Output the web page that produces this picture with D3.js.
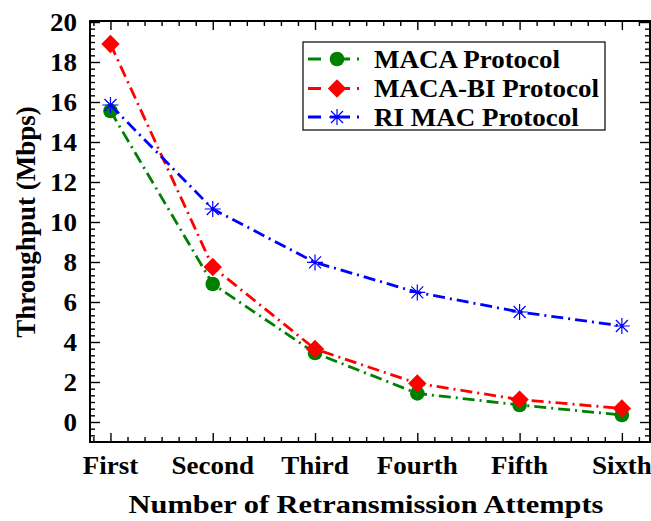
<!DOCTYPE html>
<html>
<head>
<meta charset="utf-8">
<script src="https://cdn.jsdelivr.net/npm/d3@7"></script>
<style>
  html, body { margin: 0; padding: 0; background: #fff; }
  svg { display: block; }
  text { font-family: "Liberation Serif", "Times New Roman", serif; font-weight: bold; fill: #000; }
</style>
</head>
<body>
<svg id="chart" width="651" height="521"></svg>
<script>
// Retransmission attempts (x categories) and throughput per protocol, in Mbps
const attempts = ["First", "Second", "Third", "Fourth", "Fifth", "Sixth"];
const macaValues = [15.55, 6.9, 3.45, 1.43, 0.85, 0.35];
const macaBiValues = [18.9, 7.75, 3.65, 1.93, 1.12, 0.68];
const riMacValues = [15.85, 10.65, 7.98, 6.48, 5.5, 4.8];
const yTickValues = [0, 2, 4, 6, 8, 10, 12, 14, 16, 18, 20];
const seriesNames = ["MACA Protocol", "MACA-BI Protocol", "RI MAC Protocol"];

const plot = { left: 90, right: 650, top: 21, bottom: 442 };

const svg = d3.select("#chart");

const x = d3.scaleLinear().domain([0.8, 6.275]).range([plot.left, plot.right]);
const y = d3.scaleLinear().domain([-1, 20.05]).range([plot.bottom, plot.top]);

const series = [
  { name: seriesNames[0], values: macaValues, color: "#008000", marker: "circle" },
  { name: seriesNames[1], values: macaBiValues, color: "#ff0000", marker: "diamond" },
  { name: seriesNames[2], values: riMacValues, color: "#0000ff", marker: "asterisk" }
];

const dash = "12,5,2,5";

// ---- frame with inward ticks on all four sides ----
const majorX = d3.range(1, 7);
const minorX = d3.range(-1, 35).map(k => 1 + k / 6).filter(v => v > 0.8 && v < 6.27 && Math.abs(v - Math.round(v)) > 1e-6);
const minorY = d3.range(-2, 64).map(k => k / 3).filter(v => v > -1 && v < 20.05 && Math.abs(v / 2 - Math.round(v / 2)) > 1e-6);

function styleAxis(g) {
  g.selectAll(".domain").remove();
  g.selectAll(".tick line").attr("stroke", "#000").attr("stroke-width", 1.4);
  g.selectAll(".tick text").remove();
}

function frameSide(axisFn, translate, values, size) {
  svg.append("g").attr("transform", translate)
    .call(axisFn(values === yTickValues || values === minorY ? y : x)
      .tickValues(values).tickSize(-size).tickFormat(""))
    .call(styleAxis);
}

frameSide(d3.axisBottom, `translate(0,${plot.bottom})`, majorX, 9);
frameSide(d3.axisBottom, `translate(0,${plot.bottom})`, minorX, 5);
frameSide(d3.axisTop, `translate(0,${plot.top})`, majorX, 9);
frameSide(d3.axisTop, `translate(0,${plot.top})`, minorX, 5);
frameSide(d3.axisLeft, `translate(${plot.left},0)`, yTickValues, 10);
frameSide(d3.axisLeft, `translate(${plot.left},0)`, minorY, 5);
frameSide(d3.axisRight, `translate(${plot.right},0)`, yTickValues, 10);
frameSide(d3.axisRight, `translate(${plot.right},0)`, minorY, 5);

svg.append("rect")
  .attr("x", plot.left).attr("y", plot.top)
  .attr("width", plot.right - plot.left).attr("height", plot.bottom - plot.top)
  .attr("fill", "none").attr("stroke", "#000").attr("stroke-width", 2);

// ---- text helper: bold serif, slightly widened ----
function stretchedText(parent, tx, ty, str, size, anchor, sx) {
  const g = parent.append("g").attr("transform", `translate(${tx},${ty})`);
  g.append("text")
    .attr("transform", `scale(${sx},1)`)
    .attr("text-anchor", anchor)
    .attr("font-size", size)
    .text(str);
  return g;
}

attempts.forEach((a, i) => stretchedText(svg, x(i + 1), 473.5, a, 25, "middle", 1.08));
yTickValues.forEach(v => stretchedText(svg, 77, y(v) + 8.5, String(v), 25, "end", 1.08));

// axis titles
stretchedText(svg, 366, 513, "Number of Retransmission Attempts", 26, "middle", 1.17);
svg.append("text")
  .attr("transform", `translate(35,${222}) rotate(-90)`)
  .attr("text-anchor", "middle")
  .attr("font-size", 27)
  .text("Throughput (Mbps)");

// ---- markers ----
function drawMarker(g, type, cx, cy, color) {
  if (type === "circle") {
    g.append("circle").attr("cx", cx).attr("cy", cy).attr("r", 7.3).attr("fill", color);
  } else if (type === "diamond") {
    const r = 9.2;
    g.append("path")
      .attr("d", `M${cx},${cy - r}L${cx + r},${cy}L${cx},${cy + r}L${cx - r},${cy}Z`)
      .attr("fill", color);
  } else {
    const r = 8, d = r * 0.75;
    g.append("path")
      .attr("d", `M${cx - r},${cy}L${cx + r},${cy}M${cx},${cy - r}L${cx},${cy + r}` +
                 `M${cx - d},${cy - d}L${cx + d},${cy + d}M${cx - d},${cy + d}L${cx + d},${cy - d}`)
      .attr("stroke", color).attr("stroke-width", 1.2).attr("fill", "none");
  }
}

const line = d3.line().x((d, i) => x(i + 1)).y(d => y(d));

series.forEach(s => {
  const g = svg.append("g");
  g.append("path")
    .attr("d", line(s.values))
    .attr("fill", "none")
    .attr("stroke", s.color)
    .attr("stroke-width", 2.8)
    .attr("stroke-dasharray", dash);
  s.values.forEach((v, i) => drawMarker(g, s.marker, x(i + 1), y(v), s.color));
});

// ---- legend ----
const legend = { x: 303, y: 42, w: 302, h: 88 };
svg.append("rect")
  .attr("x", legend.x).attr("y", legend.y).attr("width", legend.w).attr("height", legend.h)
  .attr("fill", "#fff").attr("stroke", "#000").attr("stroke-width", 1.2);

const rowY = [59, 88.5, 117];
series.forEach((s, i) => {
  const g = svg.append("g");
  const cy = rowY[i];
  g.append("line")
    .attr("x1", 308).attr("x2", 366).attr("y1", cy).attr("y2", cy)
    .attr("stroke", s.color).attr("stroke-width", 2.8)
    .attr("stroke-dasharray", "13,9,20,7,2,7");
  drawMarker(g, s.marker, 337, cy, s.color);
  stretchedText(g, 374, cy + 8.5, s.name, 25, "start", 1.08);
});
</script>
</body>
</html>
